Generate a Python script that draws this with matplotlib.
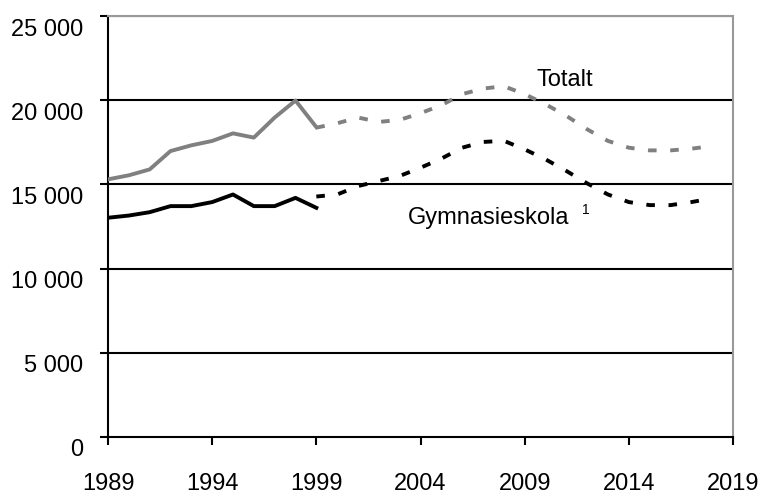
import numpy as np
import matplotlib.pyplot as plt
from matplotlib.transforms import ScaledTranslation

plt.rcParams['font.family'] = ['Liberation Sans', 'DejaVu Sans']

# observed figures 1989-1999
obs_years = list(range(1989, 2000))
totalt_obs = [15300, 15540, 15890, 16980, 17320, 17580, 18030, 17780, 18970, 19980, 18400]
gymn_obs = [13020, 13150, 13350, 13710, 13710, 13950, 14400, 13710, 13710, 14200, 13610]

# projection 1999-2018
proj_years = list(range(1999, 2019))
totalt_proj = [18370, 18630, 18970, 18710, 18830, 19230, 19700, 20360, 20690, 20830,
               20360, 19760, 19070, 18270, 17580, 17180, 17020, 17020, 17120, 17280]
gymn_proj = [14280, 14400, 14900, 15200, 15500, 15990, 16530, 17180, 17520, 17590,
             17080, 16490, 15800, 15060, 14400, 13950, 13770, 13770, 13950, 14170]

x_ticks = [1989, 1994, 1999, 2004, 2009, 2014, 2019]
y_ticks = [0, 5000, 10000, 15000, 20000, 25000]
y_labels = ['0', '5 000', '10 000', '15 000', '20 000', '25 000']

H = 495
fig = plt.figure(figsize=(7.59, 4.95), dpi=100)
ax = fig.add_axes([108 / 759, 58 / H, 625 / 759, 421 / H])

for y in y_ticks[1:]:
    ax.axhline(y, color='black', lw=1.5, zorder=1)

lw = 2.8
ax.plot(obs_years, totalt_obs, color='#808080', lw=lw, zorder=3)
ax.plot(obs_years, gymn_obs, color='black', lw=lw, zorder=3)
ax.plot(proj_years, totalt_proj, color='#808080', lw=lw, dashes=(2.2, 3.5), zorder=3)
ax.plot(proj_years, gymn_proj, color='black', lw=lw, dashes=(2.2, 3.5), zorder=3)

# labels placed in pixel coordinates (measured from top)
ax.text(565, H - 80.5, 'Totalt', transform=None, fontsize=17, ha='center', va='center')
ax.text(408, H - 218, 'Gymnasieskola', transform=None, fontsize=17, ha='left', va='center')
ax.text(582, H - 210, '1', transform=None, fontsize=10, ha='left', va='center')

ax.set_xlim(1989, 2019)
ax.set_ylim(0, 25000)
ax.set_xticks(x_ticks)
ax.set_yticks(y_ticks)
ax.set_yticklabels(y_labels)

ax.tick_params(axis='both', direction='out', length=6, width=1.5, labelsize=17)
ax.tick_params(axis='y', pad=12)
ax.tick_params(axis='x', pad=20)
offset = ScaledTranslation(0, -0.11, fig.dpi_scale_trans)
for lab in ax.get_yticklabels():
    lab.set_transform(lab.get_transform() + offset)

for side in ['left', 'bottom']:
    ax.spines[side].set_color('black')
    ax.spines[side].set_linewidth(1.5)
for side in ['top', 'right']:
    ax.spines[side].set_color('#999999')
    ax.spines[side].set_linewidth(1.5)

fig.savefig('out.png', dpi=100)
